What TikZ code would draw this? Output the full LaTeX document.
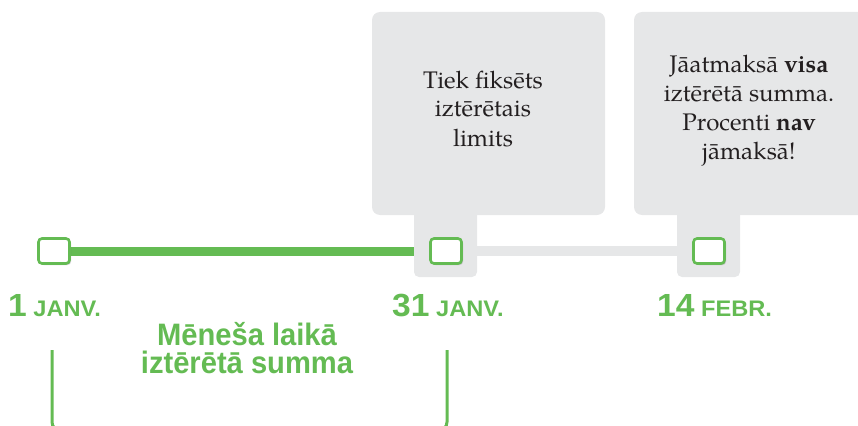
\documentclass[tikz,border=0pt]{standalone}
\usepackage{fontspec}
\setmainfont{texgyrepagella}[Extension=.otf,UprightFont=*-regular,BoldFont=*-bold]
\newfontfamily\gsans{Liberation Sans}[FakeStretch=0.94]
\newfontfamily\gsanswide{Liberation Sans}[FakeStretch=1.05]
\usetikzlibrary{shadows}
\definecolor{tlgreen}{HTML}{64BB53}
\definecolor{tlgray}{HTML}{E6E7E8}
\definecolor{tltext}{HTML}{231F20}
\tikzset{
  infobox/.style={fill=tlgray,rounded corners=8pt,minimum width=233pt,minimum height=203pt,inner sep=0pt,draw=none},
  boxtext/.style={align=center,text=tltext,font=\fontsize{24}{29}\selectfont,inner sep=0pt,anchor=base},
  daysq/.style={draw=tlgreen,line width=2.6pt,fill=white,rounded corners=3.5pt,minimum width=31pt,minimum height=25pt,inner sep=0pt,
    drop shadow={shadow xshift=1.5pt,shadow yshift=-1.5pt,opacity=0.35,fill=black!60}},
  datelbl/.style={text=tlgreen,anchor=base west,inner sep=0pt,font=\gsanswide\bfseries\fontsize{22.5}{24}\selectfont},
  greenline/.style={draw=tlgreen,line width=9pt},
  grayline/.style={draw=tlgray,line width=10pt},
  bracket/.style={draw=tlgreen,line width=3pt,rounded corners=9pt},
}
\newcommand{\bignum}[1]{{\fontsize{32}{32}\selectfont #1}}
\begin{document}
\begin{tikzpicture}[x=1pt,y=-1pt]
\useasboundingbox (0,0) rectangle (858,425);
\clip (0,0) rectangle (858,425);
% timeline squares (positions)
\coordinate (p1) at (54,251);
\coordinate (p2) at (446,251);
\coordinate (p3) at (709,251);
% lines
\draw[greenline] (p1) -- (p2);
\draw[grayline] (p2) -- (p3);
% boxes
\node[infobox] (box1) at (488.5,113.5) {};
\node[infobox] (box2) at (750.5,113.5) {};
\fill[tlgray,rounded corners=5pt] (414,150) -- (414,277) -- (477,277) -- (477,150) -- cycle;
\fill[tlgray,rounded corners=5pt] (677,150) -- (677,277) -- (740,277) -- (740,150) -- cycle;
\node[boxtext] (t1) at (483,146) {Tiek fiksēts\\iztērētais\\limits};
\node[boxtext] (t2) at (749,159) {Jāatmaksā \textbf{visa}\\iztērētā summa.\\Procenti \textbf{nav}\\jāmaksā!};
% squares
\node[daysq] (s1) at (p1) {};
\node[daysq] (s2) at (p2) {};
\node[daysq] (s3) at (p3) {};
% date labels
\node[datelbl] (d1) at (8,316) {\bignum{1} JANV.};
\node[datelbl] (d2) at (392,316) {\bignum{31} JANV.};
\node[datelbl] (d3) at (657,316) {\bignum{14} FEBR.};
% middle label
\node[text=tlgreen,align=center,inner sep=0pt,anchor=base,font=\gsans\bfseries\fontsize{31}{28}\selectfont] (mid) at (247,373) {Mēneša laikā\\iztērētā summa};
% bracket
\coordinate (b1) at (52,350);
\coordinate (b2) at (447,350);
\draw[bracket] (b1) -- (52,431) -- (447,431) -- (b2);
\end{tikzpicture}
\end{document}
